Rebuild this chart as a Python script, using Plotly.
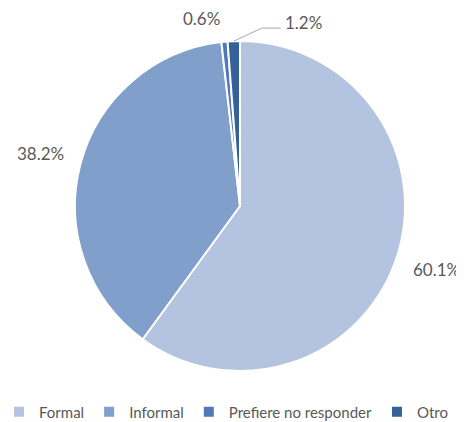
import math
import plotly.graph_objects as go

labels = ["Formal", "Informal", "Prefiere no responder", "Otro"]
values = [60.1, 38.2, 0.6, 1.2]
colors = ["#B4C3DF", "#809FCB", "#4F79B8", "#35609A"]
text = [f"{v:.1f}%" for v in values]

# the page body adds an 8px offset, so the figure is sized to fit the window
OFF = 8
W, H = 464 - OFF, 422 - OFF
MB = 36                  # bottom margin holding the legend
PH = H - MB              # plot-area height
# pie placement (figure pixels): center and radius
CX, CY, R = 240 - OFF, 206 - OFF, 165


def px2paper(px, py):
    return px / W, (PH - py) / PH


fig = go.Figure(go.Pie(
    labels=labels,
    values=values,
    textinfo="none",
    sort=False,
    direction="clockwise",
    rotation=0,
    marker=dict(colors=colors, line=dict(color="white", width=2)),
    hoverinfo="label+percent",
    domain=dict(x=[(CX - R) / W, (CX + R) / W],
                y=[(PH - CY - R) / PH, (PH - CY + R) / PH]),
))

total = sum(values)
cum = 0
label_font = dict(family="Lato", size=17, color="#595959")
for i, v in enumerate(values):
    mid = (cum + v / 2) / total * 2 * math.pi
    cum += v
    s, c = math.sin(mid), math.cos(mid)
    if i in (0, 1):
        k = 1.25
        x, y = px2paper(CX + k * R * s, CY - k * R * c)
        fig.add_annotation(x=x, y=y, xref="paper", yref="paper", text=text[i],
                           showarrow=False, font=label_font,
                           xanchor="center", yanchor="middle")
    elif i == 2:
        k = 1.14
        x, y = px2paper(CX + k * R * s - 21, CY - k * R * c)
        fig.add_annotation(x=x, y=y, xref="paper", yref="paper", text=text[i],
                           showarrow=False, font=label_font,
                           xanchor="center", yanchor="middle")
    else:
        ex, ey = CX + R * s, CY - R * c
        x0, y0 = px2paper(ex, ey)
        x1, y1 = px2paper(ex + 28, ey - 13)
        x2, _ = px2paper(ex + 47, ey - 13)
        fig.add_shape(type="path", xref="paper", yref="paper",
                      path=f"M {x0} {y0} L {x1} {y1} L {x2} {y1}",
                      line=dict(color="#A6A6A6", width=1))
        fig.add_annotation(x=x2, y=y1, xref="paper", yref="paper",
                           text=text[i], showarrow=False, font=label_font,
                           xanchor="left", yanchor="middle", xshift=2, yshift=6)

lx, ly = px2paper(-9, 412 - OFF)
fig.update_layout(
    width=W, height=H,
    margin=dict(l=0, r=0, t=0, b=MB, autoexpand=False),
    paper_bgcolor="white",
    plot_bgcolor="white",
    showlegend=True,
    legend=dict(
        orientation="h",
        x=lx, xanchor="left",
        y=ly, yanchor="middle",
        font=dict(family="Lato", size=15, color="#595959"),
        itemwidth=30,
        tracegroupgap=0,
    ),
)

fig.write_html("out.html")
